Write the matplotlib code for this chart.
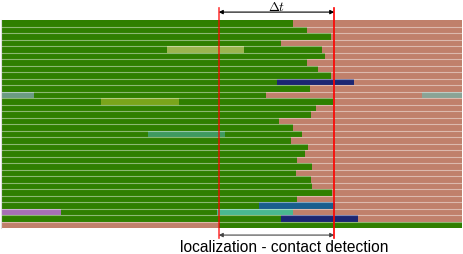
import matplotlib.pyplot as plt
import matplotlib.transforms as mtransforms

plt.rcParams['mathtext.fontset'] = 'cm'

# time (arbitrary units) where each trial switches from green phase to salmon phase
split_t = [291.7, 305.7, 329.7, 279.7, 320.7, 324.0, 305.7, 317.0,
           329.7, 276.0, 309.0, 265.0, 332.3, 315.0, 309.7, 278.3,
           291.7, 301.0, 290.0, 307.0, 304.0, 295.7, 310.7, 295.3,
           309.7, 310.7, 331.0, 295.7, 257.7, 215.7, 280.0, 218.0]
reversed_rows = [31]  # salmon first, then green
t_end = 461

# extra event segments drawn on top
seg_row = [4, 9, 11, 11, 12, 17, 28, 29, 29, 30]
seg_start = [166.0, 276.0, 0.0, 420.7, 100.0, 146.7, 257.7, 0.0, 215.7, 280.0]
seg_end = [243.0, 353.3, 32.7, 461.0, 178.0, 224.0, 334.0, 60.0, 292.3, 357.0]
seg_color = ['#9bb550', '#1b2672', '#6b9b82', '#8aa395', '#7aa51b',
             '#3f9a60', '#1a5e8e', '#a670b5', '#4ab890', '#1b2672']

t_localization = 217.7
t_contact = 333.3

GREEN = '#2f7f00'
SALMON = '#c0806b'


def main():
    fig = plt.figure(figsize=(4.63, 2.54), dpi=100)
    ax = fig.add_axes([1 / 463, 26 / 254, 461 / 463, 208 / 254])
    n = len(split_t)
    rows = list(range(n))
    h = 1.0

    first = [SALMON if i in reversed_rows else GREEN for i in rows]
    second = [GREEN if i in reversed_rows else SALMON for i in rows]
    ax.barh(rows, split_t, left=0, height=h, color=first, linewidth=0)
    ax.barh(rows, [t_end - s for s in split_t], left=split_t, height=h,
            color=second, linewidth=0)
    ax.barh(seg_row, [e - s for s, e in zip(seg_start, seg_end)], left=seg_start,
            height=h, color=seg_color, linewidth=0)
    # light separators between trials
    ax.hlines([i + 0.5 for i in rows[:-1]], 0, t_end, color='white', alpha=0.45,
              lw=0.8, zorder=3)

    ax.set_xlim(0, t_end)
    ax.set_ylim(n - 0.5, -0.5)
    ax.set_xticks([])
    ax.set_yticks([])
    for s in ['top', 'right', 'bottom']:
        ax.spines[s].set_visible(False)
    ax.spines['left'].set_color('#dddddd')
    ax.spines['left'].set_linewidth(0.8)

    ax.axvline(t_localization, ymin=-0.048, ymax=1.058, color='red', lw=1.2,
               alpha=0.75, clip_on=False, zorder=5)
    ax.axvline(t_contact, ymin=-0.048, ymax=1.058, color='red', lw=1.2,
               clip_on=False, zorder=5)

    trans = mtransforms.blended_transform_factory(ax.transData, ax.transAxes)
    ax.annotate('', xy=(t_localization, 1.038), xytext=(t_contact, 1.038),
                xycoords=trans, textcoords=trans, annotation_clip=False,
                arrowprops=dict(arrowstyle='<|-|>', color='black', lw=0.8,
                                mutation_scale=6, shrinkA=0, shrinkB=0))
    ax.text((t_localization + t_contact) / 2, 1.062, r'$\Delta t$', transform=trans,
            ha='center', va='center', fontsize=9.5)
    ax.annotate('', xy=(t_localization, -0.034), xytext=(t_contact, -0.034),
                xycoords=trans, textcoords=trans, annotation_clip=False,
                arrowprops=dict(arrowstyle='<|-|>', color='#444444', lw=0.8,
                                mutation_scale=6, shrinkA=0, shrinkB=0))
    fig.text(284.5 / 463, 1.5 / 254, 'localization - contact detection',
             ha='center', va='baseline', fontsize=11.2, family='Liberation Sans')

    fig.savefig('out.png', dpi=100)


main()
